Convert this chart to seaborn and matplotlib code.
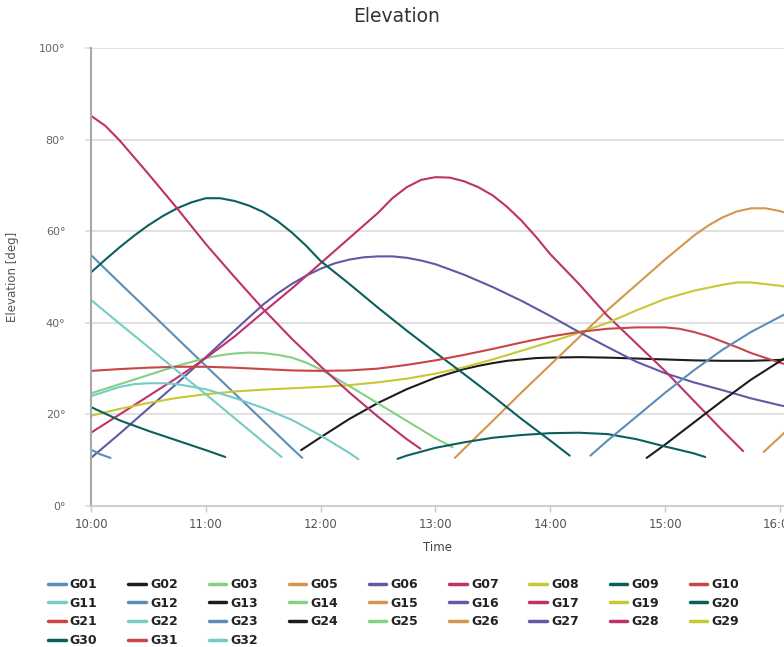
import matplotlib
matplotlib.use("Agg")
import matplotlib.pyplot as plt
from matplotlib.lines import Line2D
from matplotlib.ticker import FixedLocator, FuncFormatter
import pandas as pd
import seaborn as sns

# Satellites listed in the legend (row by row)
sats = ["G01", "G02", "G03", "G05", "G06", "G07", "G08", "G09", "G10",
        "G11", "G12", "G13", "G14", "G15", "G16", "G17", "G19", "G20",
        "G21", "G22", "G23", "G24", "G25", "G26", "G27", "G28", "G29",
        "G30", "G31", "G32"]

# Colour cycle assigned to the satellites in order
cycle = ["#5b8db8", "#1c1c1c", "#84d084", "#d4964c", "#5e5aa6",
         "#c0306a", "#c8c834", "#0b5f5c", "#c84646", "#74cdc4"]

# Elevation tracks: time of day (hours) and elevation (degrees)
g01_t = [10.0, 10.25, 10.5, 10.75, 11.0, 11.25, 11.5, 11.75, 11.84]
g01_e = [54.8, 48.7, 42.7, 36.6, 30.6, 24.6, 18.6, 12.6, 10.5]

g02_t = [11.83, 12.0, 12.25, 12.5, 12.75, 13.0, 13.25, 13.375, 13.5, 13.625,
         13.75, 13.875, 14.0, 14.25, 14.5, 14.75, 15.0, 15.25, 15.5, 15.75,
         16.0, 16.04]
g02_e = [12.2, 15.0, 19.0, 22.5, 25.5, 28.0, 29.9, 30.6, 31.2, 31.7,
         32.0, 32.3, 32.4, 32.5, 32.4, 32.2, 32.0, 31.8, 31.7, 31.7,
         31.9, 32.0]

g03_t = [10.0, 10.25, 10.5, 10.75, 11.0, 11.125, 11.25, 11.375, 11.5, 11.625,
         11.75, 11.875, 12.0, 12.25, 12.5, 12.75, 13.0, 13.15]
g03_e = [24.6, 26.6, 28.6, 30.6, 32.3, 32.9, 33.3, 33.5, 33.4, 33.0,
         32.4, 31.3, 29.8, 26.2, 22.4, 18.6, 14.8, 12.8]

g05_t = [13.17, 13.25, 13.5, 13.75, 14.0, 14.25, 14.5, 14.75, 15.0, 15.25,
         15.375, 15.5, 15.625, 15.75, 15.875, 16.0, 16.04]
g05_e = [10.5, 12.5, 18.6, 24.8, 30.8, 36.8, 42.8, 48.3, 53.8, 59.0,
         61.2, 63.0, 64.3, 65.0, 65.0, 64.4, 64.1]

g06_t = [10.0, 10.25, 10.5, 10.75, 11.0, 11.25, 11.5, 11.625, 11.75, 11.875,
         12.0, 12.125, 12.25, 12.375, 12.5, 12.625, 12.75, 12.875, 13.0, 13.25,
         13.5, 13.75, 14.0, 14.25, 14.5, 14.75, 15.0, 15.25, 15.5, 15.75,
         16.0, 16.04]
g06_e = [10.5, 15.8, 21.3, 26.8, 32.5, 38.3, 44.0, 46.4, 48.5, 50.3,
         51.8, 53.0, 53.8, 54.3, 54.5, 54.5, 54.2, 53.6, 52.8, 50.5,
         47.8, 44.8, 41.5, 38.0, 34.7, 31.5, 29.0, 27.0, 25.3, 23.5,
         22.0, 21.8]

g07_t = [10.0, 10.25, 10.5, 10.75, 11.0, 11.25, 11.5, 11.75, 12.0, 12.25,
         12.5, 12.625, 12.75, 12.875, 13.0, 13.125, 13.25, 13.375, 13.5, 13.625,
         13.75, 13.875, 14.0, 14.25, 14.5, 14.75, 15.0, 15.25, 15.5, 15.68]
g07_e = [16.0, 20.0, 24.0, 28.0, 32.3, 37.0, 42.3, 47.5, 53.0, 58.5,
         64.0, 67.2, 69.6, 71.2, 71.8, 71.7, 70.9, 69.6, 67.8, 65.3,
         62.3, 58.8, 55.0, 48.5, 41.5, 35.5, 29.5, 23.0, 16.5, 12.0]

g08_t = [10.0, 10.25, 10.5, 10.75, 11.0, 11.25, 11.5, 11.75, 12.0, 12.25,
         12.5, 12.75, 13.0, 13.25, 13.5, 13.75, 14.0, 14.25, 14.5, 14.75,
         15.0, 15.25, 15.5, 15.625, 15.75, 16.0, 16.04]
g08_e = [19.7, 21.2, 22.5, 23.6, 24.4, 25.0, 25.4, 25.7, 26.0, 26.4,
         27.0, 27.8, 28.9, 30.3, 32.0, 33.9, 35.8, 37.8, 40.0, 42.7,
         45.2, 47.0, 48.3, 48.8, 48.8, 48.1, 47.9]

g09_t = [10.0, 10.125, 10.25, 10.375, 10.5, 10.625, 10.75, 10.875, 11.0, 11.125,
         11.25, 11.375, 11.5, 11.625, 11.75, 11.875, 12.0, 12.25, 12.5, 12.75,
         13.0, 13.25, 13.5, 13.75, 14.0, 14.17]
g09_e = [51.0, 53.8, 56.5, 59.0, 61.3, 63.3, 65.0, 66.3, 67.2, 67.2,
         66.6, 65.6, 64.2, 62.2, 59.7, 56.8, 53.5, 48.5, 43.3, 38.3,
         33.5, 28.8, 24.0, 19.0, 14.3, 11.0]

g10_t = [10.0, 10.25, 10.5, 10.75, 11.0, 11.25, 11.5, 11.75, 12.0, 12.25,
         12.5, 12.75, 13.0, 13.25, 13.5, 13.75, 14.0, 14.25, 14.5, 14.75,
         15.0, 15.125, 15.25, 15.375, 15.5, 15.625, 15.75, 16.0, 16.04]
g10_e = [29.5, 29.9, 30.2, 30.4, 30.4, 30.2, 29.9, 29.6, 29.5, 29.6,
         30.0, 30.8, 31.8, 33.0, 34.3, 35.7, 37.0, 38.0, 38.7, 39.0,
         39.0, 38.7, 38.0, 37.1, 35.9, 34.7, 33.4, 31.3, 31.0]

g11_t = [10.0, 10.25, 10.5, 10.75, 11.0, 11.25, 11.5, 11.66]
g11_e = [45.0, 39.8, 34.7, 29.5, 24.4, 19.2, 14.0, 10.7]

g12_t = [10.0, 10.08, 10.17]
g12_e = [12.3, 11.3, 10.5]

g13_t = [14.84, 15.0, 15.25, 15.5, 15.75, 16.0, 16.04]
g13_e = [10.5, 13.4, 18.2, 23.0, 27.6, 31.6, 32.2]

g17_t = [10.0, 10.125, 10.25, 10.5, 10.75, 11.0, 11.25, 11.5, 11.75, 12.0,
         12.25, 12.5, 12.75, 12.87]
g17_e = [85.2, 83.0, 79.8, 72.5, 65.0, 57.2, 50.0, 43.0, 36.5, 30.5,
         24.8, 19.5, 14.6, 12.5]

g20_t = [12.67, 12.75, 13.0, 13.25, 13.5, 13.75, 14.0, 14.25, 14.5, 14.75,
         15.0, 15.25, 15.35]
g20_e = [10.3, 11.0, 12.7, 13.9, 14.9, 15.5, 15.9, 16.0, 15.7, 14.6,
         13.0, 11.5, 10.7]

g22_t = [10.0, 10.25, 10.375, 10.5, 10.625, 10.75, 11.0, 11.25, 11.5, 11.75,
         12.0, 12.25, 12.33]
g22_e = [24.0, 26.0, 26.6, 26.8, 26.8, 26.6, 25.5, 23.6, 21.4, 18.8,
         15.4, 11.6, 10.2]

g23_t = [14.35, 14.5, 14.75, 15.0, 15.25, 15.5, 15.75, 16.0, 16.04]
g23_e = [11.0, 14.3, 19.5, 24.7, 29.6, 34.1, 38.0, 41.3, 41.8]

g26_t = [15.86, 15.95, 16.04]
g26_e = [11.8, 13.9, 16.0]

g30_t = [10.0, 10.25, 10.5, 10.75, 11.0, 11.17]
g30_e = [21.6, 18.7, 16.4, 14.3, 12.2, 10.7]

tracks = {
    "G01": (g01_t, g01_e), "G02": (g02_t, g02_e), "G03": (g03_t, g03_e),
    "G05": (g05_t, g05_e), "G06": (g06_t, g06_e), "G07": (g07_t, g07_e),
    "G08": (g08_t, g08_e), "G09": (g09_t, g09_e), "G10": (g10_t, g10_e),
    "G11": (g11_t, g11_e), "G12": (g12_t, g12_e), "G13": (g13_t, g13_e),
    "G17": (g17_t, g17_e), "G20": (g20_t, g20_e), "G22": (g22_t, g22_e),
    "G23": (g23_t, g23_e), "G26": (g26_t, g26_e), "G30": (g30_t, g30_e),
}

hour_ticks = [10, 11, 12, 13, 14, 15, 16]
elev_ticks = [0, 20, 40, 60, 80, 100]

palette = {s: cycle[i % len(cycle)] for i, s in enumerate(sats)}

rows = []
for sat, (ts, es) in tracks.items():
    for t, e in zip(ts, es):
        rows.append({"sat": sat, "hour": t, "elevation": e})
df = pd.DataFrame(rows)

sns.set_style("white")
plt.rcParams["font.family"] = ["DejaVu Sans"]

W, H = 784, 647
fig = plt.figure(figsize=(W / 100, H / 100), dpi=100)
ax_left, ax_right, ax_top, ax_bottom = 91, 784, 48, 506
ax = fig.add_axes([ax_left / W, 1 - ax_bottom / H,
                   (ax_right - ax_left) / W, (ax_bottom - ax_top) / H])

plotted = [s for s in sats if s in tracks]
sns.lineplot(data=df, x="hour", y="elevation", hue="sat", hue_order=plotted,
             palette=palette, estimator=None, sort=False, legend=False,
             linewidth=1.5, ax=ax)
for ln in ax.get_lines():
    ln.set_solid_joinstyle("round")

ax.set_xlim(10, 10 + (ax_right - ax_left) / 114.8)
ax.set_ylim(0, 100)

ax.xaxis.set_major_locator(FixedLocator(hour_ticks))
ax.xaxis.set_major_formatter(FuncFormatter(lambda v, p: f"{int(round(v)):02d}:00"))
ax.yaxis.set_major_locator(FixedLocator(elev_ticks))
ax.yaxis.set_major_formatter(FuncFormatter(lambda v, p: f"{int(v)}°"))

ax.grid(axis="y", color="#dcdcdc", linewidth=1.2)
ax.grid(axis="x", visible=False)
ax.set_axisbelow(True)

for side in ("top", "right"):
    ax.spines[side].set_visible(False)
ax.spines["left"].set_color("#a8a8a8")
ax.spines["left"].set_linewidth(1.5)
ax.spines["bottom"].set_color("#c8c8c8")
ax.spines["bottom"].set_linewidth(1.2)

ax.tick_params(axis="x", bottom=True, length=4, width=1, color="#c8c8c8",
               pad=5, labelsize=8.5, labelcolor="#555555")
ax.tick_params(axis="y", left=True, length=4.5, width=1.2, color="#dcdcdc",
               pad=14, labelsize=8, labelcolor="#666666")

ax.set_xlabel("Time", fontsize=8.5, color="#444444")
ax.xaxis.set_label_coords(0.5, -0.076)
ax.set_ylabel("Elevation [deg]", fontsize=8.5, color="#555555")
ax.yaxis.set_label_coords(-0.104, 0.5)

fig.text(397 / W, 1 - 16 / H, "Elevation", ha="center", va="center",
         fontsize=13.5, color="#333333")

# Legend laid out row by row (matplotlib fills column first)
handles = [Line2D([0], [0], color=palette[s], linewidth=2.5) for s in sats]
ncol = 9
order = []
for c in range(ncol):
    for r in range(4):
        k = r * ncol + c
        if k < len(sats):
            order.append(k)
fig.legend([handles[k] for k in order], [sats[k] for k in order],
           ncol=ncol, loc="upper left", bbox_to_anchor=(48 / W, 1 - 578 / H),
           frameon=False, borderpad=0, borderaxespad=0,
           handlelength=1.4, handletextpad=0.35, columnspacing=2.45,
           labelspacing=0.45, prop={"size": 9, "weight": "bold"},
           labelcolor="#222222")

fig.savefig("out.png", dpi=100)
